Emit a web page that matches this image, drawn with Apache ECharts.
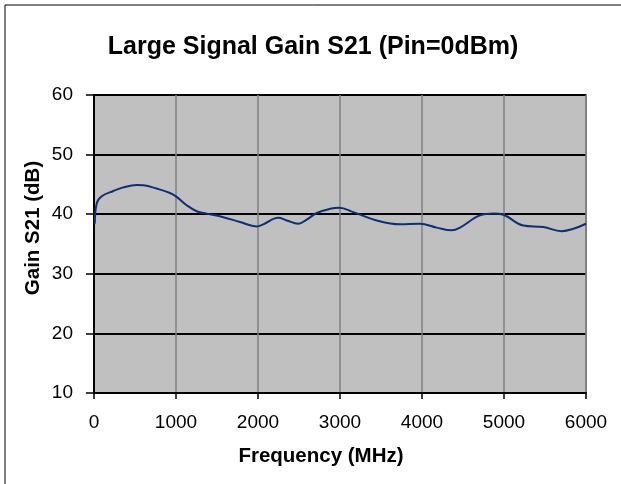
<!DOCTYPE html>
<html>
<head>
<meta charset="utf-8">
<script src="https://cdn.jsdelivr.net/npm/echarts@6/dist/echarts.min.js"></script>
<style>html,body{margin:0;padding:0;background:#fff;}#c{width:621px;height:484px;}</style>
</head>
<body>
<div id="c"></div>
<script>
const titleText = 'Large Signal Gain S21 (Pin=0dBm)';
const xName = 'Frequency (MHz)';
const yName = 'Gain S21 (dB)';
const freq = [10, 33, 94, 236, 357, 520, 602, 765, 927, 1008, 1130, 1252, 1374, 1577, 1780, 1984, 2065, 2248, 2350, 2492, 2594, 2716, 2878, 2990, 3162, 3447, 3732, 3976, 4179, 4362, 4463, 4707, 4870, 4992, 5236, 5480, 5703, 5846, 6000];
const gain = [38.4, 41.8, 43.0, 43.9, 44.5, 44.9, 44.85, 44.3, 43.55, 42.9, 41.5, 40.5, 40.1, 39.5, 38.7, 37.95, 38.3, 39.4, 38.95, 38.4, 39.1, 40.2, 40.9, 41.1, 40.35, 38.95, 38.3, 38.4, 37.75, 37.3, 37.75, 39.8, 40.1, 39.9, 38.1, 37.85, 37.15, 37.55, 38.4];
const xTicks = [0, 1000, 2000, 3000, 4000, 5000, 6000];
const yTicks = [10, 20, 30, 40, 50, 60];

const chart = echarts.init(document.getElementById('c'), null, {renderer: 'canvas'});
const font = 'Arial, "Liberation Sans", Helvetica, sans-serif';
chart.setOption({
  animation: false,
  backgroundColor: '#ffffff',
  graphic: [
    {type: 'rect', shape: {x: 5, y: 5, width: 640, height: 500}, style: {fill: 'none', stroke: '#000', lineWidth: 1}, silent: true, z: -1},
    {type: 'text', x: 313, y: 47, style: {text: titleText, font: 'bold 25px ' + font, fill: '#000', align: 'center', verticalAlign: 'middle'}},
    {type: 'text', x: 321, y: 456, style: {text: xName, font: 'bold 20.5px ' + font, fill: '#000', align: 'center', verticalAlign: 'middle'}},
    {type: 'text', x: 33, y: 228, rotation: Math.PI / 2, style: {text: yName, font: 'bold 20.5px ' + font, fill: '#000', align: 'center', verticalAlign: 'middle'}}
  ],
  grid: {left: 94, right: 35, top: 95, bottom: 91, show: true, backgroundColor: '#c0c0c0', borderColor: '#808080', borderWidth: 2},
  xAxis: {
    type: 'value', min: xTicks[0], max: xTicks[xTicks.length - 1], interval: 1000,
    axisLine: {show: true, onZero: false, lineStyle: {color: '#000', width: 2}},
    axisTick: {show: true, length: 6, lineStyle: {color: '#000', width: 1.5}},
    axisLabel: {fontFamily: font, fontSize: 19, color: '#000', margin: 20, formatter: v => String(v)},
    splitLine: {show: true, lineStyle: {color: '#808080', width: 1.5}}
  },
  yAxis: {
    type: 'value', min: yTicks[0], max: yTicks[yTicks.length - 1], interval: 10,
    axisLine: {show: true, lineStyle: {color: '#000', width: 2}},
    axisTick: {show: true, length: 8, lineStyle: {color: '#000', width: 1.5}},
    axisLabel: {fontFamily: font, fontSize: 19, color: '#000', margin: 21},
    splitLine: {show: true, lineStyle: {color: '#000', width: 2}}
  },
  series: [{
    type: 'line', data: freq.map((f, i) => [f, gain[i]]),
    smooth: 0.4, showSymbol: false, symbol: 'none',
    lineStyle: {color: '#102f73', width: 2}
  }]
});
</script>
</body>
</html>
